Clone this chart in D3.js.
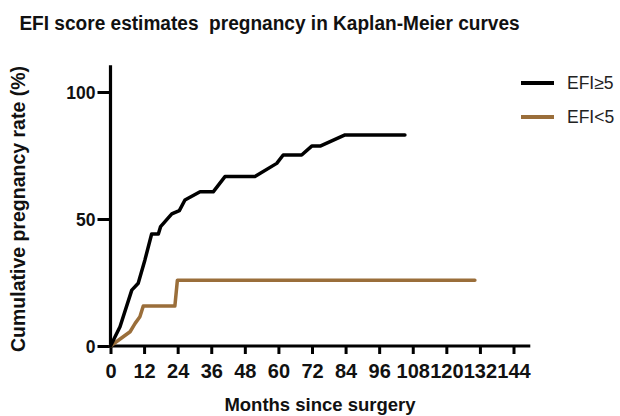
<!DOCTYPE html>
<html><head><meta charset="utf-8">
<script src="https://cdn.jsdelivr.net/npm/d3@7"></script>
<style>body{margin:0;background:#fff}svg{display:block}text{white-space:pre}</style>
</head><body>
<svg id="c" width="620" height="416"></svg>
<script>
const title = "EFI score estimates  pregnancy in Kaplan-Meier curves";
const xTitle = "Months since surgery";
const yTitle = "Cumulative pregnancy rate (%)";
const xTicks = [0,12,24,36,48,60,72,84,96,108,120,132,144];
const yTicks = [0,50,100];
const seriesNames = ["EFI\u22655","EFI<5"];
const seriesColors = ["#000000","#9a6e3a"];
// EFI>=5
const hiMonths = [0,3.4,7.6,9.9,12.3,14.7,17.1,17.9,21.9,24.6,26.6,32,36.7,40.9,51.6,59.4,61.7,68.3,71.9,74.9,83.8,105.2];
const hiRate   = [0,7.6,22,24.7,33.9,44.1,44.1,47,52,53.3,57.5,60.7,60.7,66.7,66.7,71.9,75.2,75.2,78.7,78.7,83.1,83.1];
// EFI<5
const loMonths = [0,7.0,8.8,10.5,11.7,23.0,23.9,130.2];
const loRate   = [0,5.6,8.9,11.5,15.7,15.7,25.9,25.9];

const svg = d3.select("#c");
const font = "'Liberation Sans', Arial, Helvetica, sans-serif";
const x = d3.scaleLinear().domain([0,144]).range([110.5,513.5]);
const y = d3.scaleLinear().domain([0,100]).range([346,92]);

svg.append("text").attr("transform","translate(269.5,30) scale(0.94,1)").attr("text-anchor","middle")
  .attr("font-family",font).attr("font-weight","bold").attr("font-size",20.3)
  .attr("fill","#111").text(title);

// axes
const xAxis = svg.append("g").attr("transform","translate(0,346)")
  .call(d3.axisBottom(x).tickValues(xTicks).tickSize(8).tickPadding(10));
xAxis.select(".domain").attr("d",`M${x(0)},0H${x(150)}`);
const yAxis = svg.append("g").attr("transform","translate(110.5,0)")
  .call(d3.axisLeft(y).tickValues(yTicks).tickSize(13).tickPadding(2));
yAxis.select(".domain").attr("d",`M0,${y(0)}V${y(110.5)}`);
[xAxis,yAxis].forEach(g=>{
  g.selectAll(".domain").attr("stroke","#000").attr("stroke-width",3.2).attr("fill","none");
  g.selectAll(".tick line").attr("stroke","#000").attr("stroke-width",3);
  g.selectAll("text").attr("font-family",font).attr("font-weight","bold").attr("fill","#111");
});
xAxis.selectAll("text").attr("font-size",20);
yAxis.selectAll("text").attr("font-size",17.5).attr("dy","0.36em");

svg.append("text").attr("x",320).attr("y",411).attr("text-anchor","middle")
  .attr("font-family",font).attr("font-weight","bold").attr("font-size",18.5)
  .attr("fill","#111").text(xTitle);
svg.append("text").attr("transform","translate(25,209) rotate(-90)").attr("text-anchor","middle")
  .attr("font-family",font).attr("font-weight","bold").attr("font-size",19.5)
  .attr("fill","#111").text(yTitle);

const line = d3.line().x(d=>x(d[0])).y(d=>y(d[1]));
const series = [d3.zip(hiMonths,hiRate), d3.zip(loMonths,loRate)];
[1,0].forEach(i=>{
  svg.append("path").datum(series[i]).attr("d",line).attr("fill","none")
    .attr("stroke",seriesColors[i]).attr("stroke-width",3.5)
    .attr("stroke-linejoin","round").attr("stroke-linecap","round");
});

// legend
seriesNames.forEach((n,i)=>{
  const yy = 83 + i*34;
  svg.append("line").attr("x1",521).attr("x2",554).attr("y1",yy).attr("y2",yy)
    .attr("stroke",seriesColors[i]).attr("stroke-width",4);
  svg.append("text").attr("x",567).attr("y",yy).attr("dy","0.36em")
    .attr("font-family",font).attr("font-size",17.5).attr("fill","#222").text(n);
});
</script>
</body></html>
